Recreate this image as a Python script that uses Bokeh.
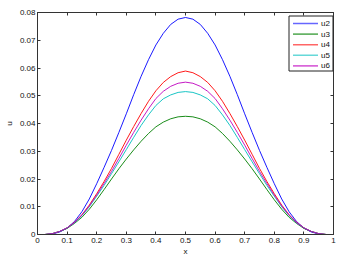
from bokeh.plotting import figure
from bokeh.models import Range1d, LinearAxis, FixedTicker, BoxAnnotation, Label
from bokeh.embed import file_html
from bokeh.resources import INLINE

# ---- data ----
x = [0.0, 0.025, 0.05, 0.075, 0.1, 0.125, 0.15, 0.175, 0.2, 0.225, 0.25,
     0.275, 0.3, 0.325, 0.35, 0.375, 0.4, 0.425, 0.45, 0.475, 0.5,
     0.525, 0.55, 0.575, 0.6, 0.625, 0.65, 0.675, 0.7, 0.725, 0.75,
     0.775, 0.8, 0.825, 0.85, 0.875, 0.9, 0.925, 0.95, 0.975, 1.0]
u2 = [0.0, 0.0, 0.0002, 0.0009, 0.0023, 0.0047, 0.0082, 0.0128, 0.0183, 0.0242, 0.0303,
      0.0368, 0.0435, 0.0504, 0.0570, 0.0630, 0.0683, 0.0725, 0.0757, 0.0776, 0.0782,
      0.0776, 0.0757, 0.0725, 0.0683, 0.0630, 0.0570, 0.0504, 0.0435, 0.0368, 0.0303,
      0.0242, 0.0183, 0.0128, 0.0082, 0.0047, 0.0023, 0.0009, 0.0002, 0.0, 0.0]
u3 = [0.0, 0.0, 0.0003, 0.0011, 0.0022, 0.0040, 0.0062, 0.0091, 0.0125, 0.0162, 0.0200,
      0.0237, 0.0272, 0.0305, 0.0336, 0.0364, 0.0388, 0.0405, 0.0417, 0.0424, 0.0426,
      0.0424, 0.0417, 0.0405, 0.0388, 0.0364, 0.0336, 0.0305, 0.0272, 0.0237, 0.0200,
      0.0162, 0.0125, 0.0091, 0.0062, 0.0040, 0.0022, 0.0011, 0.0003, 0.0, 0.0]
u4 = [0.0, 0.0, 0.0003, 0.0011, 0.0024, 0.0044, 0.0071, 0.0106, 0.0147, 0.0191, 0.0238,
      0.0289, 0.0340, 0.0389, 0.0436, 0.0480, 0.0518, 0.0548, 0.0569, 0.0583, 0.0589,
      0.0583, 0.0569, 0.0548, 0.0518, 0.0480, 0.0436, 0.0389, 0.0340, 0.0289, 0.0238,
      0.0191, 0.0147, 0.0106, 0.0071, 0.0044, 0.0024, 0.0011, 0.0003, 0.0, 0.0]
u5 = [0.0, 0.0, 0.0003, 0.0011, 0.0024, 0.0042, 0.0068, 0.0100, 0.0138, 0.0177, 0.0219,
      0.0262, 0.0306, 0.0350, 0.0393, 0.0431, 0.0465, 0.0489, 0.0503, 0.0512, 0.0515,
      0.0512, 0.0503, 0.0489, 0.0465, 0.0431, 0.0393, 0.0350, 0.0306, 0.0262, 0.0219,
      0.0177, 0.0138, 0.0100, 0.0068, 0.0042, 0.0024, 0.0011, 0.0003, 0.0, 0.0]
u6 = [0.0, 0.0, 0.0003, 0.0011, 0.0024, 0.0043, 0.0070, 0.0103, 0.0142, 0.0184, 0.0227,
      0.0274, 0.0322, 0.0368, 0.0412, 0.0453, 0.0490, 0.0516, 0.0534, 0.0545, 0.0549,
      0.0545, 0.0534, 0.0516, 0.0490, 0.0453, 0.0412, 0.0368, 0.0322, 0.0274, 0.0227,
      0.0184, 0.0142, 0.0103, 0.0070, 0.0043, 0.0024, 0.0011, 0.0003, 0.0, 0.0]

series_names = ["u2", "u3", "u4", "u5", "u6"]
series_colors = ["#0000ff", "#008000", "#ff0000", "#00bfbf", "#bf00bf"]

x_ticks = [0, 0.1, 0.2, 0.3, 0.4, 0.5, 0.6, 0.7, 0.8, 0.9, 1]
x_tick_labels = ["0", "0.1", "0.2", "0.3", "0.4", "0.5", "0.6", "0.7", "0.8", "0.9", "1"]
y_ticks = [0, 0.01, 0.02, 0.03, 0.04, 0.05, 0.06, 0.07, 0.08]
y_tick_labels = ["0", "0.01", "0.02", "0.03", "0.04", "0.05", "0.06", "0.07", "0.08"]

FONT = "Liberation Sans"
AX = "#333333"
TXT = "#111111"

p = figure(width=348, height=260, output_backend="svg", toolbar_location=None,
           x_range=Range1d(0, 1), y_range=Range1d(0, 0.08),
           min_border_left=37, min_border_right=15, min_border_top=12, min_border_bottom=26,
           x_axis_label="x", y_axis_label="u")
p.xgrid.visible = False
p.ygrid.visible = False
p.outline_line_color = AX
p.background_fill_color = "white"
p.border_fill_color = "white"

for name, col, ys in zip(series_names, series_colors, [u2, u3, u4, u5, u6]):
    p.line(x, ys, line_color=col, line_width=1, line_alpha=0.9)

def style(axis, ticks, labels, show_labels):
    axis.ticker = FixedTicker(ticks=ticks)
    if show_labels:
        axis.major_label_overrides = {t: l for t, l in zip(ticks, labels)}
    else:
        axis.major_label_overrides = {t: "" for t in ticks}
    axis.major_tick_in = 3
    axis.major_tick_out = 0
    axis.minor_tick_line_color = None
    axis.axis_line_color = AX
    axis.major_tick_line_color = AX
    axis.major_label_text_font = FONT
    axis.major_label_text_font_size = "8px"
    axis.major_label_text_color = TXT
    axis.axis_label_text_font = FONT
    axis.axis_label_text_font_size = "8px"
    axis.axis_label_text_font_style = "normal"
    axis.axis_label_text_color = TXT

style(p.xaxis[0], x_ticks, x_tick_labels, True)
style(p.yaxis[0], y_ticks, y_tick_labels, True)
p.xaxis[0].major_label_standoff = 3
p.xaxis[0].axis_label_standoff = 1
p.yaxis[0].major_label_standoff = 2
p.yaxis[0].axis_label_standoff = 3

top = LinearAxis()
style(top, x_ticks, x_tick_labels, False)
top.major_label_standoff = 0
p.add_layout(top, "above")
right = LinearAxis()
style(right, y_ticks, y_tick_labels, False)
right.major_label_standoff = 0
p.add_layout(right, "right")

# ---- legend (screen units, relative to the plot frame) ----
FW, FH = 296, 222          # frame size
LW, LH = 44, 55            # legend box size
ITEM_H = 10.6
lx0 = FW - LW - 0.5
ly_top = FH - 3.5

def screen_box(**kw):
    return BoxAnnotation(left_units="screen", right_units="screen",
                         bottom_units="screen", top_units="screen", **kw)

p.add_layout(screen_box(left=lx0, right=FW - 0.5, bottom=ly_top - LH, top=ly_top,
                        fill_color="white", fill_alpha=1.0,
                        line_color="#222222", line_width=1, line_alpha=1.0))
for i, (name, col) in enumerate(zip(series_names, series_colors)):
    yc = ly_top - 7.5 - i * ITEM_H
    # legend sample line drawn as a thin filled strip (soft, like an antialiased line)
    p.add_layout(screen_box(left=lx0 + 4, right=lx0 + 29, bottom=yc - 0.8, top=yc + 0.8,
                            fill_color=col, fill_alpha=0.6, line_color=None))
    p.add_layout(Label(x=lx0 + 32, y=yc, x_units="screen", y_units="screen",
                       text=name, text_font=FONT, text_font_size="8px",
                       text_color=TXT, text_baseline="middle", text_align="left"))

open("out.html", "w").write(file_html(p, INLINE))
